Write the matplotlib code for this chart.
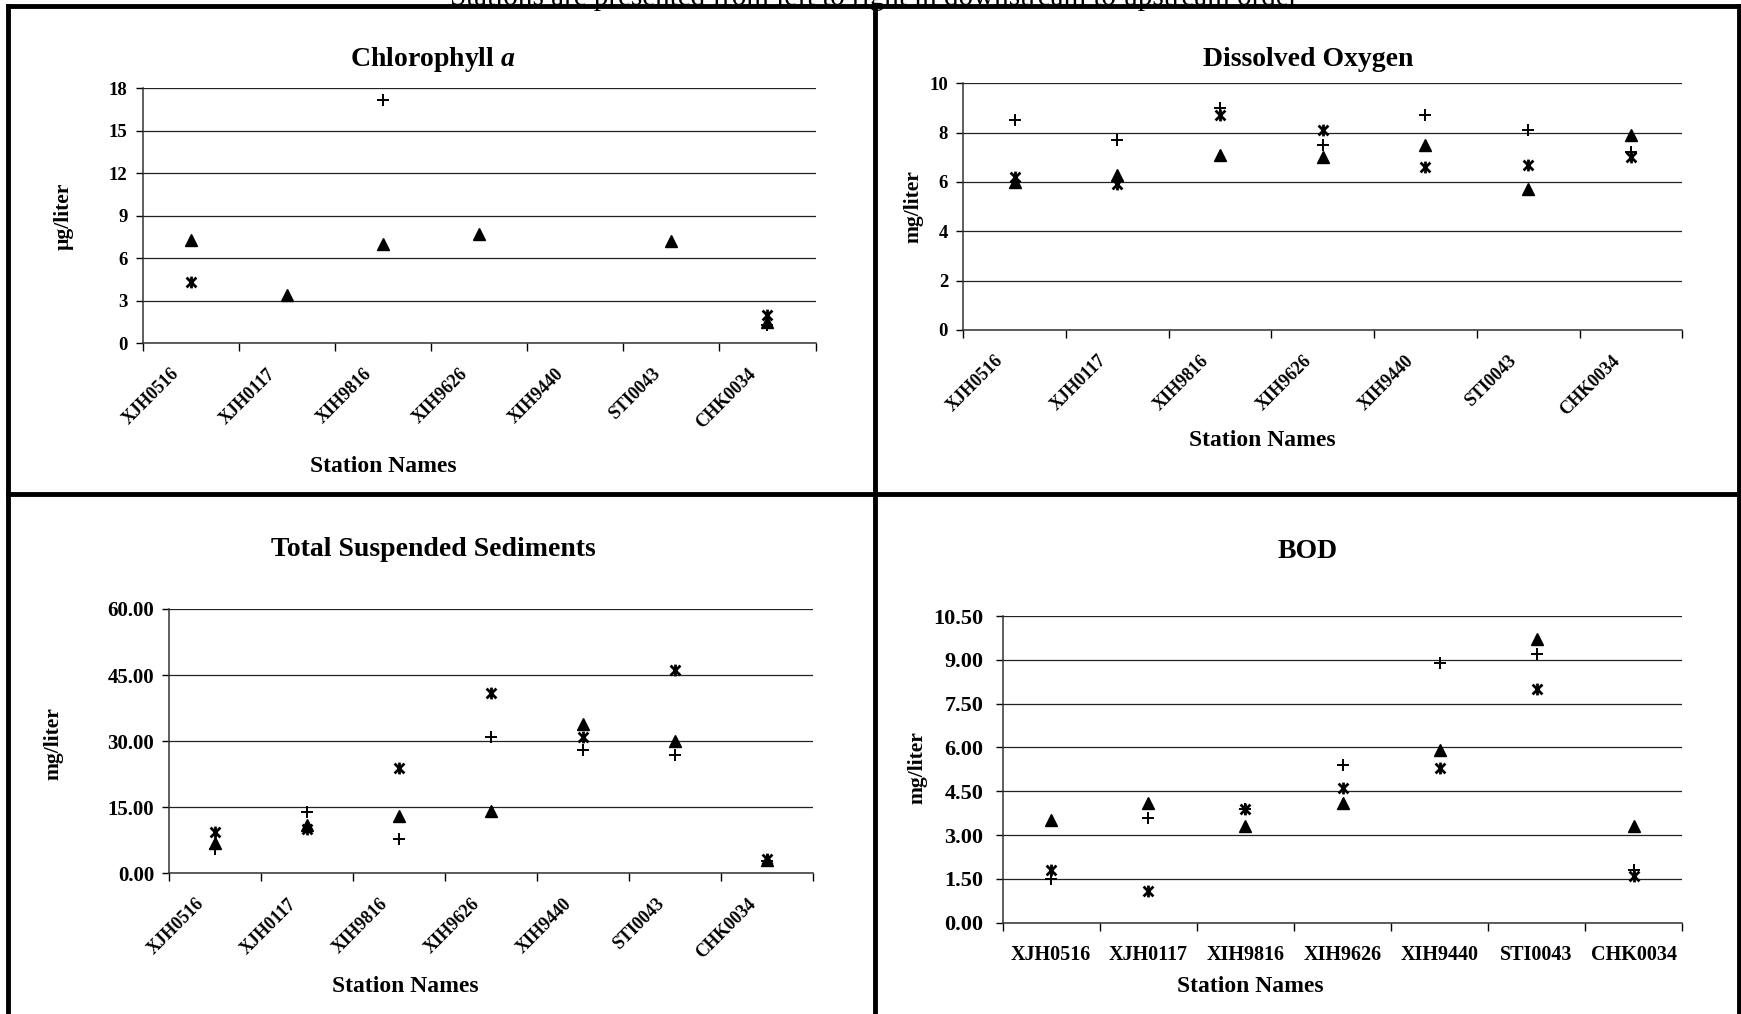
import numpy as np
import matplotlib.pyplot as plt
import matplotlib.transforms as mtransforms
from matplotlib.path import Path
from matplotlib.lines import Line2D

plt.rcParams['font.family'] = ['Liberation Serif', 'DejaVu Serif']
plt.rcParams['font.weight'] = 'bold'
plt.rcParams['mathtext.fontset'] = 'custom'
plt.rcParams['mathtext.it'] = 'Liberation Serif:italic:bold'
plt.rcParams['mathtext.rm'] = 'Liberation Serif:bold'

nan = np.nan
stations = ['XJH0516', 'XJH0117', 'XIH9816', 'XIH9626', 'XIH9440', 'STI0043', 'CHK0034']

chl_tri = [7.3, 3.4, 7.0, 7.7, nan, 7.2, 1.5]
chl_plus = [nan, nan, 17.2, nan, nan, nan, 1.3]
chl_star = [4.3, nan, nan, nan, nan, nan, 2.0]

do_tri = [6.0, 6.3, 7.1, 7.0, 7.5, 5.7, 7.9]
do_plus = [8.5, 7.7, 9.0, 7.5, 8.7, 8.1, 7.2]
do_star = [6.2, 5.9, 8.7, 8.1, 6.6, 6.7, 7.0]

tss_tri = [6.8, 11.0, 13.0, 14.2, 34.0, 30.1, 3.0]
tss_plus = [5.5, 14.0, 7.7, 31.0, 28.0, 26.9, 2.8]
tss_star = [9.3, 10.0, 24.0, 41.0, 31.0, 46.1, 3.2]

bod_tri = [3.5, 4.1, 3.3, 4.1, 5.9, 9.7, 3.3]
bod_plus = [1.5, 3.6, 3.9, 5.4, 8.9, 9.2, 1.8]
bod_star = [1.8, 1.1, 3.9, 4.6, 5.3, 8.0, 1.6]

W, H = 1741, 1014
fig = plt.figure(figsize=(W / 100, H / 100), dpi=100)
fig.patch.set_facecolor('white')


def fx(px):
    return px / W


def fy(py):
    return 1 - py / H


# excel style star marker: x with a vertical bar
star = Path([(-1, -1), (1, 1), (-1, 1), (1, -1), (0, -1.2), (0, 1.2)],
            [Path.MOVETO, Path.LINETO] * 3)


def panel(box, tri, plus, st, yticks, fmt, title, ylab, ylab_xy, xlab_xy, title_xy,
          rotate=True, ysize=13.5, ypad=6):
    l, t, r, b = box
    ax = fig.add_axes([fx(l), fy(b), fx(r) - fx(l), (b - t) / H])
    x = np.arange(len(stations)) + 0.5
    ax.plot(x, tri, linestyle='none', marker='^', ms=8, color='black')
    ax.plot(x, plus, linestyle='none', marker='+', ms=8, mew=1.4, color='black')
    ax.plot(x, st, linestyle='none', marker=star, ms=8.5, mew=2.0, mfc='none', color='black')
    ax.set_xlim(0, len(stations))
    ax.set_ylim(yticks[0], yticks[-1])
    ax.set_yticks(yticks)
    ax.set_yticklabels([fmt.format(v) for v in yticks], fontsize=ysize, fontweight='bold')
    ax.set_xticks(np.arange(len(stations) + 1))
    ax.set_xticklabels([])
    if rotate:
        # slanted names, anchored a little left of each category centre
        shift = mtransforms.ScaledTranslation(-0.20, -0.22, fig.dpi_scale_trans)
        for xi, name in zip(x, stations):
            ax.text(xi, 0, name, transform=ax.get_xaxis_transform() + shift,
                    rotation=45, ha='right', va='top', rotation_mode='anchor',
                    fontsize=13, fontweight='bold')
    else:
        ax.set_xticks(x, minor=True)
        ax.set_xticklabels(stations, minor=True, fontsize=14.5, fontweight='bold')
        ax.tick_params(axis='x', which='minor', length=0, pad=16)
    ax.tick_params(axis='x', which='major', direction='out', length=6, width=1)
    ax.tick_params(axis='y', direction='out', length=5, width=1, pad=ypad)
    ax.grid(axis='y', color='#222222', linewidth=0.9)
    ax.set_axisbelow(True)
    for s in ['top', 'right']:
        ax.spines[s].set_visible(False)
    for s in ['left', 'bottom']:
        ax.spines[s].set_linewidth(1.1)
        ax.spines[s].set_color('#333333')
    fig.text(fx(title_xy[0]), fy(title_xy[1]), title, fontsize=20, fontweight='bold',
             ha='center', va='center')
    fig.text(fx(ylab_xy[0]), fy(ylab_xy[1]), ylab, fontsize=15.5, fontweight='bold',
             rotation=90, ha='center', va='center')
    fig.text(fx(xlab_xy[0]), fy(xlab_xy[1]), 'Station Names', fontsize=17, fontweight='bold',
             ha='center', va='center')
    return ax


panel((142.7, 88.3, 815.5, 343.3), chl_tri, chl_plus, chl_star, np.arange(0, 19, 3), '{:.0f}',
      'Chlorophyll $\\mathit{a}$', '\u00b5g/liter', (64, 216), (383, 467), (433, 60))
panel((963.3, 83.3, 1682.2, 330.0), do_tri, do_plus, do_star, np.arange(0, 11, 2), '{:.0f}',
      'Dissolved Oxygen', 'mg/liter', (913, 207), (1262, 441), (1308, 60))
panel((169.3, 609.0, 813.3, 873.3), tss_tri, tss_plus, tss_star, np.arange(0, 61, 15), '{:.2f}',
      'Total Suspended Sediments', 'mg/liter', (53, 744), (405, 986), (433, 549), ysize=15)
panel((1002.7, 616.0, 1682.3, 922.7), bod_tri, bod_plus, bod_star, np.arange(0, 10.51, 1.5), '{:.2f}',
      'BOD', 'mg/liter', (917, 768), (1250, 987), (1308, 551), rotate=False, ysize=16, ypad=9)

# note at the very top, partly cut off by the page edge
fig.text(0.502, fy(5), 'Stations are presented from left to right in downstream to upstream order',
         fontsize=21, fontweight='normal', ha='center', va='baseline')

# thick panel frames
frame_kw = dict(color='black', linewidth=3.5, transform=fig.transFigure)
fig.add_artist(Line2D([fx(8), fx(8)], [fy(6), 0], **frame_kw))
fig.add_artist(Line2D([fx(875), fx(875)], [fy(6), 0], **frame_kw))
fig.add_artist(Line2D([fx(1739), fx(1739)], [fy(6), 0], **frame_kw))
fig.add_artist(Line2D([fx(8), fx(1739)], [fy(6), fy(6)], **frame_kw))
fig.add_artist(Line2D([fx(8), fx(1739)], [fy(494), fy(494)], **frame_kw))

fig.savefig('out.png', dpi=100)
